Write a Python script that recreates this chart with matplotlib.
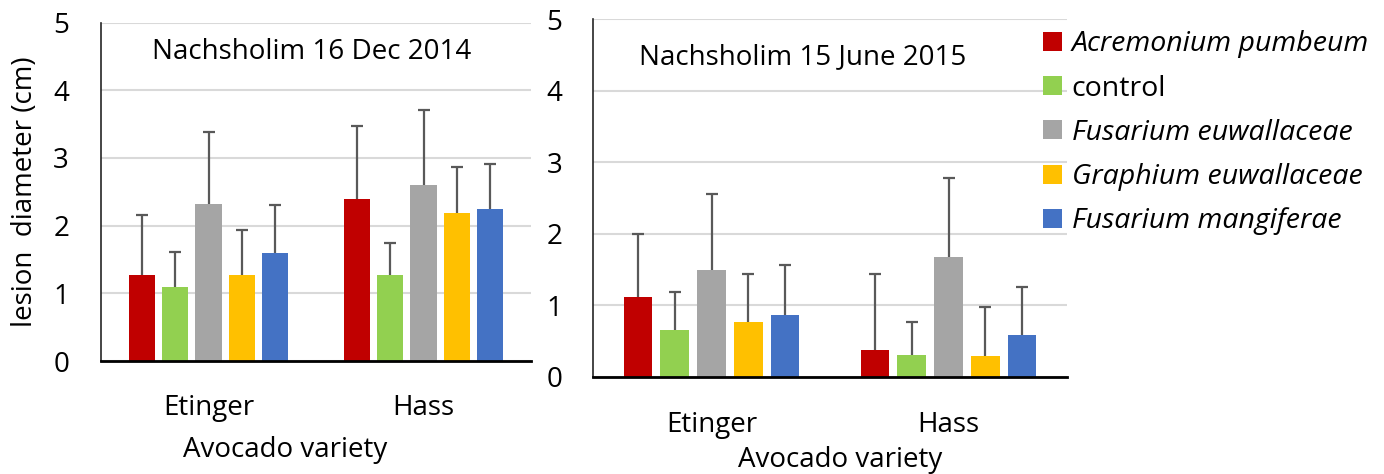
import matplotlib
matplotlib.use("Agg")
import matplotlib.pyplot as plt
from matplotlib.patches import Patch
import numpy as np

varieties = ["Etinger", "Hass"]
treatments = ["Acremonium pumbeum", "control", "Fusarium euwallaceae",
              "Graphium euwallaceae", "Fusarium mangiferae"]
italic = [True, False, True, True, True]
colors = ["#C00000", "#92D050", "#A5A5A5", "#FFC000", "#4472C4"]

# Dec 2014 (rows = treatments, cols = Etinger, Hass)
dec_mean = [[1.27, 2.40], [1.09, 1.27], [2.32, 2.60], [1.27, 2.18], [1.60, 2.24]]
dec_err = [[0.88, 1.07], [0.52, 0.47], [1.06, 1.11], [0.67, 0.69], [0.70, 0.67]]
# June 2015
jun_mean = [[1.12, 0.37], [0.66, 0.31], [1.49, 1.67], [0.77, 0.29], [0.87, 0.58]]
jun_err = [[0.88, 1.06], [0.52, 0.46], [1.07, 1.11], [0.67, 0.68], [0.69, 0.67]]

yticks = [0, 1, 2, 3, 4, 5]

FONT = "Open Sans"
plt.rcParams['font.family'] = [FONT, 'DejaVu Sans']
FS = 20

W, H = 1384, 474
fig = plt.figure(figsize=(W / 100, H / 100), dpi=100)

def px_axes(x0, y0, x1, y1):
    return fig.add_axes([x0 / W, 1 - y1 / H, (x1 - x0) / W, (y1 - y0) / H])

ax1 = px_axes(101, 22.6, 531, 361)
ax2 = px_axes(593, 19.3, 1067, 376.7)

step = 0.155
bw = 0.122

def draw(ax, means, errs, title, title_xy, ytick_pad, xtick_pad, xlabel_pad, xlabel_x):
    x = np.arange(len(varieties))
    for i, (m, e, c) in enumerate(zip(means, errs, colors)):
        pos = x + (i - 2) * step
        ax.bar(pos, m, width=bw, color=c, zorder=2)
        eb = ax.errorbar(pos, m, yerr=[np.zeros(len(m)), e], fmt='none',
                         ecolor="#595959", elinewidth=1.6, capsize=4.4,
                         capthick=1.6, zorder=3)
        caps = eb[1]
        if len(caps) > 0:
            caps[0].set_visible(False)
    ax.set_xlim(-0.5, 1.5)
    ax.set_ylim(0, 5)
    ax.set_yticks(yticks)
    ax.set_yticklabels([str(t) for t in yticks])
    ax.yaxis.grid(True, color="#D9D9D9", linewidth=1.5, zorder=0)
    ax.set_axisbelow(True)
    ax.set_xticks(x)
    ax.set_xticklabels(varieties)
    ax.tick_params(axis='both', length=0, labelsize=FS)
    ax.tick_params(axis='y', pad=ytick_pad)
    ax.tick_params(axis='x', pad=xtick_pad)
    ax.set_xlabel("Avocado variety", fontsize=FS, labelpad=xlabel_pad)
    ax.xaxis.label.set_x(xlabel_x)
    for s in ["top", "right"]:
        ax.spines[s].set_visible(False)
    ax.spines["left"].set_color("#262626")
    ax.spines["left"].set_linewidth(1.2)
    ax.spines["bottom"].set_color("#000000")
    ax.spines["bottom"].set_linewidth(2.0)
    ax.text(title_xy[0], title_xy[1], title, transform=fig.transFigure,
            fontsize=FS, ha="center", va="center")

draw(ax1, dec_mean, dec_err, "Nachsholim 16 Dec 2014", ((152 + 472) / 2 / W, 1 - 52 / H),
     23, 24, 10, (285 - 101) / 430)
draw(ax2, jun_mean, jun_err, "Nachsholim 15 June 2015", ((638 + 968) / 2 / W, 1 - 57 / H),
     22, 25, 5, (840 - 593) / 474)
ax1.set_ylabel("lesion  diameter (cm)", fontsize=FS, labelpad=10)

handles = [Patch(facecolor=c, edgecolor='none') for c in colors]
leg = fig.legend(handles, treatments, loc="upper left",
                 bbox_to_anchor=(1032 / W, 1 - 19 / H), frameon=False,
                 fontsize=20.5, handlelength=0.65, handleheight=0.65,
                 handletextpad=0.35, labelspacing=0.57, borderaxespad=0)
for t, it in zip(leg.get_texts(), italic):
    if it:
        t.set_style("italic")

fig.savefig("out.png", dpi=100)
